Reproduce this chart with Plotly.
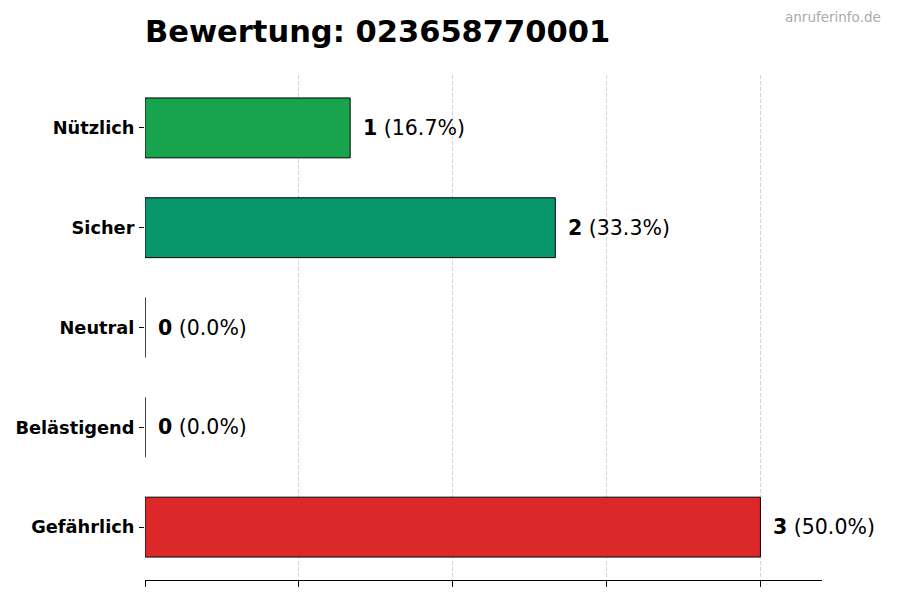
import plotly.graph_objects as go

categories = ["Nützlich", "Sicher", "Neutral", "Belästigend", "Gefährlich"]
values = [1, 2, 0, 0, 3]
colors = ["#16a34a", "#059669", "#6b7280", "#f59e0b", "#dc2626"]
title_text = "Bewertung: 023658770001"
watermark = "anruferinfo.de"
tick_vals = [0, 0.75, 1.5, 2.25, 3.0]

total = sum(values)
FONT = "DejaVu Sans"

# page body has an 8px default margin; compensate so the view matches
OFF = 8
L, T = 145 - OFF, 75 - OFF
R, B = 900 - (822 - OFF), 600 - (580 - OFF)
PW, PH = 900 - L - R, 600 - T - B

fig = go.Figure()
fig.add_trace(go.Bar(
    y=categories, x=values, orientation="h",
    marker=dict(color=colors, line=dict(color="#000000", width=1), opacity=0.99),
    width=0.6, hoverinfo="skip",
))

annotations = []
for c, v in zip(categories, values):
    pct = 100 * v / total if total else 0
    annotations.append(dict(
        x=v, y=c, xref="x", yref="y", xanchor="left", yanchor="middle",
        xshift=11, showarrow=False,
        text=f"<b>{v}</b> ({pct:.1f}%)",
        font=dict(family=FONT, size=20.5, color="#000000"),
    ))
annotations.append(dict(
    x=1 + ((883 - OFF) - (900 - R)) / PW, y=1 + (T - (17 - OFF)) / PH,
    xref="paper", yref="paper", showarrow=False,
    text=watermark, font=dict(family=FONT, size=13.5, color="#aaaaaa"),
    xanchor="right", yanchor="middle",
))

fig.update_layout(
    width=900, height=600,
    margin=dict(l=L, r=R, t=T, b=B, autoexpand=False),
    plot_bgcolor="white", paper_bgcolor="white",
    showlegend=False,
    title=dict(text=f"<b>{title_text}</b>", x=L / 900, xanchor="left",
               y=1 - (31 - OFF) / 600, yanchor="middle", automargin=False,
               font=dict(family=FONT, size=30.5, color="#000000")),
    annotations=annotations,
)
fig.update_xaxes(
    range=[0, 3.3], tickvals=tick_vals, showticklabels=False,
    showgrid=True, gridcolor="#d4d4d4", griddash="4px,2px", gridwidth=1,
    showline=True, linecolor="#000000", linewidth=1,
    ticks="outside", ticklen=6, tickcolor="#000000", zeroline=False,
    automargin=False,
)
fig.update_yaxes(
    categoryorder="array", categoryarray=categories[::-1],
    range=[-0.53, 4.53], showgrid=False, showline=False, zeroline=False,
    ticks="outside", ticklen=5, tickcolor="#000000",
    tickfont=dict(family=FONT, size=17.8, color="#000000"),
    ticklabelstandoff=1, automargin=False,
    tickprefix="<b>", ticksuffix="</b>",
)

fig.write_html("out.html")
